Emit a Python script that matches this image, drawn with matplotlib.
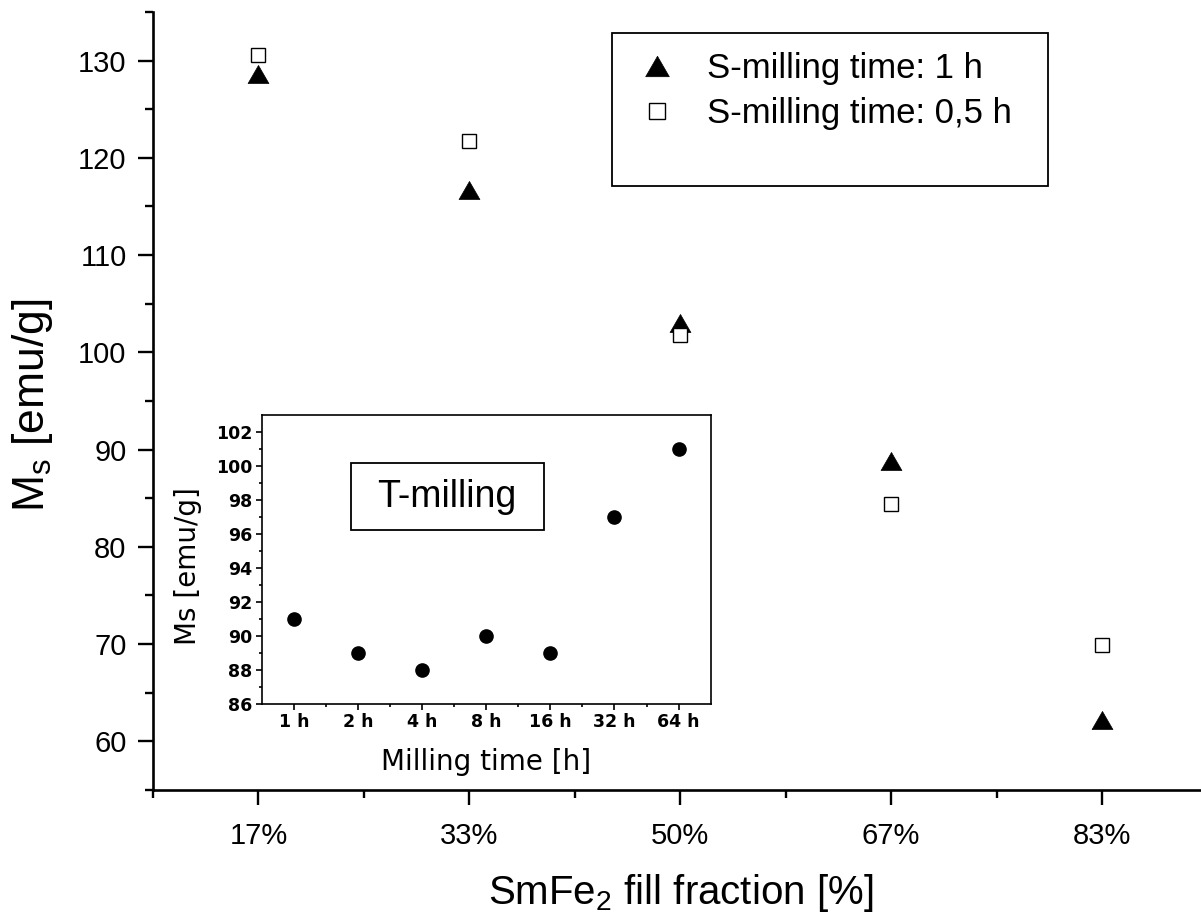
import matplotlib
matplotlib.use("Agg")
import matplotlib.pyplot as plt
from matplotlib.lines import Line2D
from matplotlib.patches import Rectangle
from matplotlib.path import Path
import numpy as np

plt.rcParams['font.family'] = ['Liberation Sans', 'DejaVu Sans']
plt.rcParams['mathtext.fontset'] = 'custom'
plt.rcParams['mathtext.rm'] = 'Liberation Sans'
plt.rcParams['mathtext.it'] = 'Liberation Sans:italic'

# Main panel: saturation magnetisation vs SmFe2 fill fraction
fractions = ['17%', '33%', '50%', '67%', '83%']
ms_1h = [128.6, 116.7, 103.0, 88.8, 62.2]
ms_05h = [130.6, 121.7, 101.8, 84.4, 69.9]

# Inset: T-milling series
milling_times = ['1 h', '2 h', '4 h', '8 h', '16 h', '32 h', '64 h']
ms_t = [91, 89, 88, 90, 89, 97, 101]

W, H = 1201, 916
fig = plt.figure(figsize=(W / 100, H / 100), dpi=100)

def fx(px):
    return px / W

def fy(py):
    return 1 - py / H

# equilateral triangle marker, centred on its bounding box
tri = Path([(-1, -0.866), (1, -0.866), (0, 0.866), (-1, -0.866)],
           [Path.MOVETO, Path.LINETO, Path.LINETO, Path.CLOSEPOLY])

ax = fig.add_axes([fx(153), fy(790), fx(1207.5) - fx(153), fy(12) - fy(790)])
xpos = np.arange(1, len(fractions) + 1)
ax.plot(xpos, ms_1h, linestyle='none', marker=tri, markersize=15,
        markerfacecolor='black', markeredgecolor='black', markeredgewidth=0.5)
ax.plot(xpos, ms_05h, linestyle='none', marker='s', markersize=10.5,
        markerfacecolor='white', markeredgecolor='black', markeredgewidth=1.0)

ax.set_xlim(0.5, 5.5)
ax.set_ylim(55.07, 135.0)
ax.set_xticks(xpos)
ax.set_xticklabels(fractions)
ax.set_xticks(np.arange(0.5, 5.6, 1.0), minor=True)
ax.set_yticks(np.arange(60, 131, 10))
ax.set_yticks(np.arange(55, 136, 5), minor=True)
for s in ['top', 'right']:
    ax.spines[s].set_visible(False)
for s in ['left', 'bottom']:
    ax.spines[s].set_linewidth(1.9)
ax.tick_params(which='major', direction='out', length=11, width=1.7,
               labelsize=21, pad=8)
ax.tick_params(which='minor', direction='out', length=5.5, width=1.7)
ax.tick_params(axis='x', which='major', pad=12)

ax.set_xlabel(r'SmFe$_2$ fill fraction [%]', fontsize=29, va='center')
ax.xaxis.set_label_coords(0.5, (790 - 893) / 778)
ax.set_ylabel(r'M$_\mathrm{s}$ [emu/g]', fontsize=32, va='center')
ax.yaxis.set_label_coords((33 - 153) / 1054.5, (790 - 405) / 778)

# Legend with an open framed box
fig.patches.append(Rectangle((fx(612), fy(186)), fx(1048) - fx(612), fy(33) - fy(186),
                             transform=fig.transFigure, fill=False,
                             edgecolor='black', linewidth=1.3))
handles = [
    Line2D([], [], linestyle='none', marker=tri, markersize=17,
           markerfacecolor='black', markeredgecolor='black', markeredgewidth=0.5,
           label='S-milling time: 1 h'),
    Line2D([], [], linestyle='none', marker='s', markersize=11,
           markerfacecolor='white', markeredgecolor='black', markeredgewidth=1.0,
           label='S-milling time: 0,5 h'),
]
fig.legend(handles=handles, loc='upper left',
           bbox_to_anchor=(fx(640), fy(52)), frameon=False, fontsize=25,
           handlelength=1.0, handletextpad=0.93, labelspacing=0.35,
           borderpad=0.0, borderaxespad=0.0)

# Inset axes
axi = fig.add_axes([fx(261.7), fy(704.3), fx(710.7) - fx(261.7), fy(415) - fy(704.3)])
tpos = np.arange(1, len(milling_times) + 1)
axi.plot(tpos, ms_t, linestyle='none', marker='o', markersize=9.5,
         markerfacecolor='black', markeredgecolor='black')
axi.set_xlim(0.5, 7.5)
axi.set_ylim(86, 103)
axi.set_xticks(tpos)
axi.set_xticklabels(milling_times)
axi.set_xticks(np.arange(1.5, 7.0, 1.0), minor=True)
axi.set_yticks(np.arange(86, 103, 2))
axi.set_yticks(np.arange(87, 103, 2), minor=True)
for lbl in axi.get_xticklabels() + axi.get_yticklabels():
    lbl.set_fontweight('bold')
    lbl.set_family('DejaVu Sans')
for s in axi.spines.values():
    s.set_linewidth(1.2)
axi.tick_params(which='major', direction='out', length=4.5, width=1.2,
                labelsize=12.5, pad=2)
axi.tick_params(which='minor', direction='out', length=2.5, width=1.2)
axi.set_xlabel('Milling time [h]', fontsize=20, family='DejaVu Sans', va='center')
axi.xaxis.set_label_coords(0.5, (704.3 - 762) / 289.3)
axi.set_ylabel('Ms [emu/g]', fontsize=20, family='DejaVu Sans', va='center')
axi.yaxis.set_label_coords((188 - 261.7) / 449, (704.3 - 566) / 289.3)

fig.patches.append(Rectangle((fx(350.7), fy(530)), fx(543.7) - fx(350.7), fy(463) - fy(530),
                             transform=fig.transFigure, fill=False,
                             edgecolor='black', linewidth=1.3, zorder=5))
fig.text(fx(447), fy(497), 'T-milling', fontsize=27, ha='center', va='center')

fig.savefig('out.png', dpi=100)
